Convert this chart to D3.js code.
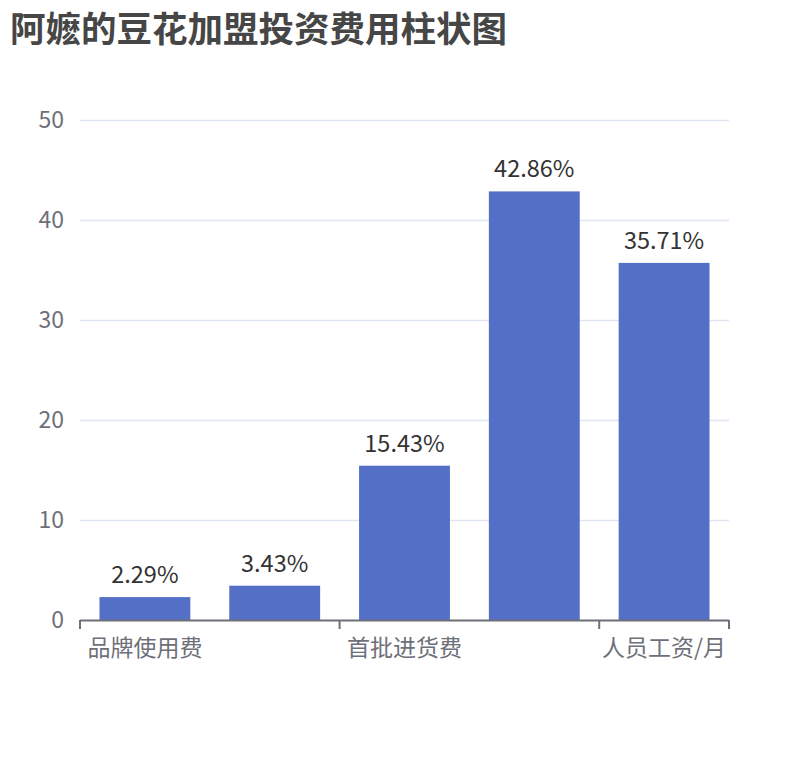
<!DOCTYPE html>
<html>
<head>
<meta charset="utf-8">
<script src="https://cdn.jsdelivr.net/npm/d3@7/dist/d3.min.js"></script>
<style>
  body { margin: 0; background: #fff; }
  svg text { font-family: "Microsoft YaHei", "Noto Sans CJK SC", sans-serif; }
</style>
</head>
<body>
<div id="chart"></div>
<script>
var categories = ["品牌使用费", "店面装修费", "首批进货费", "设备费用", "人员工资/月"];
var values = [2.29, 3.43, 15.43, 42.86, 35.71];
var yTicks = [0, 10, 20, 30, 40, 50];
var shownLabels = [0, 2, 4];

var w = 810;
var h = 760;
var pl = 80;
var pr = 729;
var pt = 120;
var pb = 620;

const svg = d3
  .select("#chart")
  .append("svg")
  .attr("width", w)
  .attr("height", h);

svg
  .append("text")
  .attr("x", 10)
  .attr("y", 42)
  .attr("fill", "#464646")
  .style("font-size", "35.5px")
  .style("font-weight", "bold")
  .text("阿嬷的豆花加盟投资费用柱状图");

const xScale = d3
  .scaleBand()
  .domain(categories)
  .range([pl, pr])
  .paddingInner(0.3)
  .paddingOuter(0.15);

const xBand = d3.scaleBand().domain(categories).range([pl, pr]);

const yScale = d3.scaleLinear().domain([0, 50]).range([pb, pt]);

// grid
svg
  .selectAll(".grid")
  .data(yTicks.slice(1))
  .enter()
  .append("line")
  .attr("x1", pl)
  .attr("x2", pr)
  .attr("y1", (d) => yScale(d) + 0.5)
  .attr("y2", (d) => yScale(d) + 0.5)
  .attr("stroke", "#e0e6f1")
  .attr("stroke-width", 1.5);

// y labels
svg
  .selectAll(".ylab")
  .data(yTicks)
  .enter()
  .append("text")
  .attr("x", 64)
  .attr("y", (d) => yScale(d))
  .attr("dy", "0.35em")
  .attr("text-anchor", "end")
  .attr("fill", "#6e7079")
  .style("font-size", "23px")
  .text((d) => d);

// bars
svg
  .selectAll("rect")
  .data(values)
  .enter()
  .append("rect")
  .attr("x", (d, i) => xScale(categories[i]))
  .attr("y", (d) => yScale(d))
  .attr("width", xScale.bandwidth())
  .attr("height", (d) => pb - yScale(d))
  .attr("fill", "#5470c6");

// value labels
svg
  .selectAll(".vlab")
  .data(values)
  .enter()
  .append("text")
  .attr("x", (d, i) => xScale(categories[i]) + xScale.bandwidth() / 2)
  .attr("y", (d) => yScale(d) - 14)
  .attr("text-anchor", "middle")
  .attr("fill", "#333")
  .style("font-size", "23.5px")
  .text((d) => d.toFixed(2) + "%");

// x axis
const xAxis = svg.append("g");
xAxis
  .append("line")
  .attr("x1", pl)
  .attr("x2", pr)
  .attr("y1", pb + 0.5)
  .attr("y2", pb + 0.5)
  .attr("stroke", "#6e7079")
  .attr("stroke-width", 2);

var tickPos = shownLabels.map((i) => xBand(categories[i])).concat([pr]);
xAxis
  .selectAll(".tick")
  .data(tickPos)
  .enter()
  .append("line")
  .attr("x1", (d) => d)
  .attr("x2", (d) => d)
  .attr("y1", pb)
  .attr("y2", pb + 9)
  .attr("stroke", "#6e7079")
  .attr("stroke-width", 2);

xAxis
  .selectAll(".xlab")
  .data(shownLabels)
  .enter()
  .append("text")
  .attr("x", (i) => xBand(categories[i]) + xBand.bandwidth() / 2)
  .attr("y", pb + 36)
  .attr("text-anchor", "middle")
  .attr("fill", "#6e7079")
  .style("font-size", "23px")
  .text((i) => categories[i]);
</script>
</body>
</html>
